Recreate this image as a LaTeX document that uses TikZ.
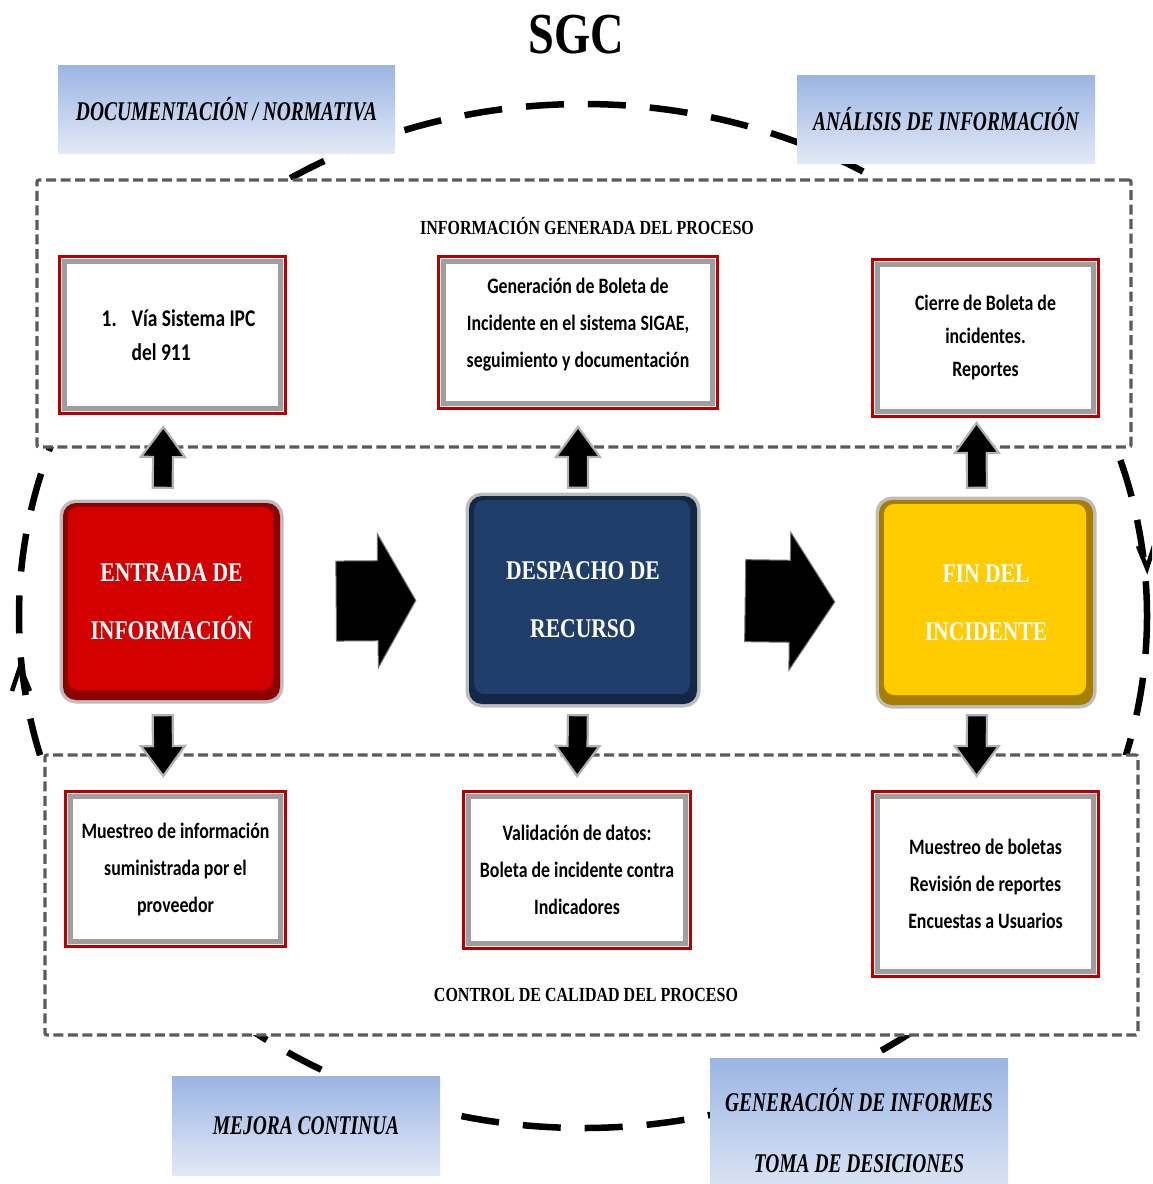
\documentclass[tikz,border=0pt]{standalone}
\usepackage{fontspec}
\setmainfont{Liberation Serif}
\newfontfamily\headserif[FakeStretch=0.8]{Liberation Serif}
\newfontfamily\tagserif[FakeStretch=0.72]{Liberation Serif}
\newfontfamily\boxsans[FakeStretch=0.81]{Carlito}
\usetikzlibrary{calc}

\definecolor{tagtop}{HTML}{9BB5E3}
\definecolor{tagbot}{HTML}{E2E9F6}
\definecolor{framegray}{HTML}{5B5B5B}
\definecolor{redframe}{HTML}{B80000}
\definecolor{bevelgray}{HTML}{9E9E9E}
\definecolor{rimgray}{HTML}{BDBDBD}
\definecolor{boxred}{HTML}{D20000}
\definecolor{boxredd}{HTML}{8E0000}
\definecolor{boxblue}{HTML}{1F3E69}
\definecolor{boxblued}{HTML}{132847}
\definecolor{boxyel}{HTML}{FFCC00}
\definecolor{boxyeld}{HTML}{A77F00}

% block arrow between two anchors:
% [style]{start}{target}{start gap}{end gap}{shaft half width}{head half width}{head length}
\newcommand{\blockarr}[8][]{%
  \path[#1] let \p1=($(#2)!#4!(#3)$), \p2=($(#3)!#5!(#2)$), \p3=($(\p2)!#8!(\p1)$) in
    ($(\p1)!#6!90:(\p2)$) -- ($(\p3)!#6!90:(\p2)$) -- ($(\p3)!#7!90:(\p2)$) -- (\p2)
    -- ($(\p3)!#7!-90:(\p2)$) -- ($(\p3)!#6!-90:(\p2)$) -- ($(\p1)!#6!-90:(\p2)$) -- cycle;}

\begin{document}
\begin{tikzpicture}[x=1pt,y=-1pt,
  ring/.style={line width=6.5pt, dash pattern=on 38pt off 24pt, black},
  ringtip/.style={line width=4.5pt, black},
  region/.style={draw=framegray, fill=white, line width=3.2pt,
    dash pattern=on 10pt off 4.5pt, rounded corners=2pt, inner sep=0pt},
  regiontitle/.style={font=\headserif\bfseries\fontsize{20}{24}\selectfont},
  tagbox/.style={top color=tagtop, bottom color=tagbot, inner sep=0pt, align=center,
    font=\tagserif\bfseries\itshape\fontsize{27}{61}\selectfont},
  infobox/.style={fill=white, draw=bevelgray, line width=5pt, inner sep=0pt, align=center,
    font=\boxsans\bfseries\fontsize{22}{37}\selectfont,
    preaction={draw=redframe, line width=13pt},
    preaction={draw=white!92!gray, line width=7pt}},
  stagebox/.style 2 args={rounded corners=13pt, fill=#2, inner sep=0pt, align=center,
    text=white, font=\headserif\bfseries\fontsize{27}{58}\selectfont,
    preaction={draw=rimgray, line width=7pt},
    path picture={\fill[#1, rounded corners=10pt]
      ($(path picture bounding box.north west)+(5,4)$) rectangle
      ($(path picture bounding box.south east)+(-7,-10)$);}},
  sarrow/.style={fill=black, draw=gray!60, line width=2.2pt, line join=miter},
  barrow/.style={fill=black, draw=black!55, line width=1pt, line join=miter},
]
\useasboundingbox (0,0) rectangle (1152,1184);
\clip (0,0) rectangle (1152,1184);

% title
\node[font=\headserif\bfseries\fontsize{58}{58}\selectfont] (title) at (576,35) {SGC};

% clockwise improvement cycle
\coordinate (ringc) at (583,616);
\draw[ring] (ringc) ellipse [x radius=564, y radius=512];
\coordinate (cwtip) at (1147,568);
\draw[ringtip] ($(cwtip)+(-9,-22)$) -- (cwtip) -- ($(cwtip)+(7,-22)$);
\coordinate (ccwtip) at (20,667);
\draw[ringtip] ($(ccwtip)+(-8,24)$) -- (ccwtip) -- ($(ccwtip)+(10,24)$);

% process regions
\node[region, minimum width=1094pt, minimum height=267pt] (upper) at (584,313.5) {};
\node[region, minimum width=1093pt, minimum height=280pt] (lower) at (591.5,895) {};
\node[regiontitle] (uppertitle) at (587,226) {INFORMACIÓN GENERADA DEL PROCESO};
\node[regiontitle] (lowertitle) at (586,995) {CONTROL DE CALIDAD DEL PROCESO};

% cycle tags
\node[tagbox, minimum width=337pt, minimum height=88pt] (tagdoc) at (226.5,109) {DOCUMENTACIÓN / NORMATIVA};
\node[tagbox, minimum width=298pt, minimum height=88pt] (taganal) at (946,119) {ANÁLISIS DE INFORMACIÓN};
\node[tagbox, minimum width=268pt, minimum height=99pt] (tagmej) at (306,1125.5) {MEJORA CONTINUA};
\node[tagbox, minimum width=298pt, minimum height=146pt] (taggen) at (859,1131) {GENERACIÓN DE INFORMES\\TOMA DE DESICIONES};

% generated information
\node[infobox, align=left, font=\boxsans\bfseries\fontsize{24}{34}\selectfont,
      minimum width=216pt, minimum height=147pt] (via) at (172.5,335)
  {\hspace*{12pt}\makebox[30pt][l]{1.}Vía Sistema IPC\\\hspace*{42pt}del 911};
\node[infobox, minimum width=269pt, minimum height=142pt] (boleta) at (578,332.5)
  {\raisebox{9pt}[\height][\depth]{\begin{tabular}{@{}c@{}}Generación de Boleta de\\Incidente en el sistema SIGAE,\\seguimiento y documentación\end{tabular}}};
\node[infobox, font=\boxsans\bfseries\fontsize{22}{33}\selectfont,
      minimum width=216pt, minimum height=147pt] (cierre) at (985.5,338)
  {Cierre de Boleta de\\incidentes.\\Reportes};

% quality control
\node[infobox, minimum width=210pt, minimum height=145pt] (muestra) at (175.5,869)
  {Muestreo de información\\suministrada por el\\proveedor};
\node[infobox, minimum width=217pt, minimum height=147pt] (valida) at (577,870)
  {Validación de datos:\\Boleta de incidente contra\\Indicadores};
\node[infobox, minimum width=216pt, minimum height=175pt] (revision) at (985.5,884)
  {Muestreo de boletas\\Revisión de reportes\\Encuestas a Usuarios};

% process stages
\node[stagebox={boxred}{boxredd}, minimum width=217pt, minimum height=197pt] (entrada) at (171.5,601.5)
  {ENTRADA DE\\INFORMACIÓN};
\node[stagebox={boxblue}{boxblued}, minimum width=228pt, minimum height=208pt] (despacho) at (583,600)
  {DESPACHO DE\\RECURSO};
\node[stagebox={boxyel}{boxyeld}, minimum width=214pt, minimum height=205pt] (fin) at (986,602.5)
  {FIN DEL\\INCIDENTE};

% flow between stages
\blockarr[barrow]{entrada.east}{despacho.west}{56pt}{53pt}{40pt}{67pt}{38pt}
\blockarr[barrow]{despacho.east}{fin.west}{48pt}{44pt}{41pt}{69pt}{45pt}

% stages to generated information
\blockarr[sarrow]{[xshift=-9pt]entrada.north}{[xshift=-9pt]via.south}{15pt}{16pt}{10pt}{22pt}{30pt}
\blockarr[sarrow]{[xshift=-5pt]despacho.north}{boleta.south}{8pt}{21pt}{10pt}{22pt}{30pt}
\blockarr[sarrow]{[xshift=-9pt]fin.north}{[xshift=-9pt]cierre.south}{12pt}{9pt}{10pt}{22pt}{30pt}

% stages to quality control
\blockarr[sarrow]{[xshift=-9pt]entrada.south}{[xshift=-12pt]muestra.north}{15pt}{18pt}{10pt}{22pt}{30pt}
\blockarr[sarrow]{[xshift=-5pt]despacho.south}{valida.north}{11pt}{18pt}{10pt}{22pt}{30pt}
\blockarr[sarrow]{[xshift=-9pt]fin.south}{[xshift=-9pt]revision.north}{10pt}{18pt}{10pt}{22pt}{30pt}
\end{tikzpicture}
\end{document}
